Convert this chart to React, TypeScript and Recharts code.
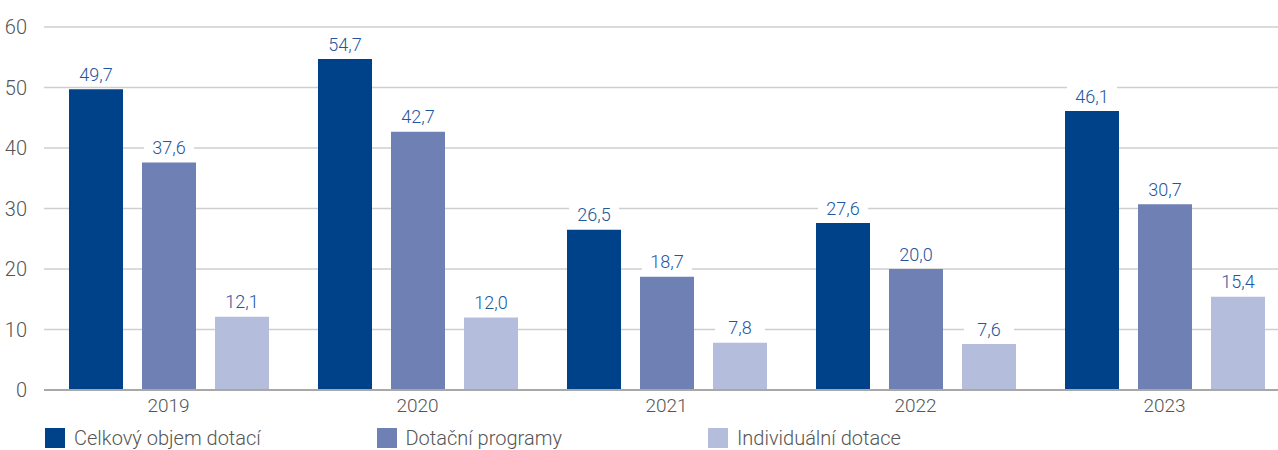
import React from "react";
import { BarChart, Bar, XAxis, YAxis, CartesianGrid, Legend, LabelList } from "recharts";

const years = ["2019", "2020", "2021", "2022", "2023"];
const celkovy = [49.7, 54.7, 26.5, 27.6, 46.1];
const programy = [37.6, 42.7, 18.7, 20.0, 30.7];
const individualni = [12.1, 12.0, 7.8, 7.6, 15.4];
const yTicks = [0, 10, 20, 30, 40, 50, 60];

const series = [
  { key: "celkovy", name: "Celkový objem dotací", color: "#00428a" },
  { key: "programy", name: "Dotační programy", color: "#6e80b4" },
  { key: "individualni", name: "Individuální dotace", color: "#b5bddc" },
];

const data = years.map((y, i) => ({
  year: y,
  celkovy: celkovy[i],
  programy: programy[i],
  individualni: individualni[i],
}));

const FONT = "Roboto, 'Liberation Sans', sans-serif";

const fmt = (v: number) => v.toFixed(1).replace(".", ",");

// value label with a white box behind it (cuts the grid line)
const ValueLabel = (props: any) => {
  const { x, y, width, value } = props;
  const cx = x + width / 2;
  const cy = y - 15;
  return (
    <g>
      <rect x={cx - 25} y={cy - 11} width={50} height={21} fill="#fff" />
      <text x={cx} y={cy} textAnchor="middle" dominantBaseline="central"
        fontSize={18} fontWeight={300} fill="#22569f" fontFamily={FONT}>
        {fmt(value)}
      </text>
    </g>
  );
};

const LegendBox = () => (
  <div style={{ position: "relative", height: 30, fontFamily: FONT, fontWeight: 300, fontSize: 20, color: "#555" }}>
    {series.map((s, i) => (
      <div key={s.key} style={{ position: "absolute", left: 45 + i * 331.5, top: 0, display: "flex", alignItems: "center", lineHeight: "22px" }}>
        <span style={{ width: 20, height: 20, background: s.color, display: "inline-block", marginRight: 9 }} />
        <span>{s.name}</span>
      </div>
    ))}
  </div>
);

export default function App() {
  return (
    <div style={{ position: "absolute", left: 0, top: 0, width: 1278, height: 450, overflow: "hidden", background: "#fff" }}>
      <BarChart width={1289} height={450} data={data} barSize={54} barGap={19}
        margin={{ top: 27, right: 0, left: 0, bottom: 0 }}>
        <CartesianGrid vertical={false} stroke="#cfcfcf" strokeWidth={1.5} />
        <XAxis dataKey="year" tickLine={false} axisLine={{ stroke: "#a8a8a8", strokeWidth: 2 }}
          tick={{ fill: "#555", fontSize: 19, fontFamily: FONT, fontWeight: 300 }} tickMargin={3} height={30} />
        <YAxis domain={[0, 60]} ticks={yTicks} width={44} tickLine={false} axisLine={false}
          tick={{ fill: "#555", fontSize: 20, fontFamily: FONT, fontWeight: 300 }} tickMargin={11} />
        <Legend verticalAlign="bottom" content={<LegendBox />}
          wrapperStyle={{ left: 0, width: 1278, bottom: -7, height: 30 }} />
        {series.map(s => (
          <Bar key={s.key} dataKey={s.key} name={s.name} fill={s.color} isAnimationActive={false}>
            <LabelList dataKey={s.key} content={<ValueLabel />} />
          </Bar>
        ))}
      </BarChart>
    </div>
  );
}
